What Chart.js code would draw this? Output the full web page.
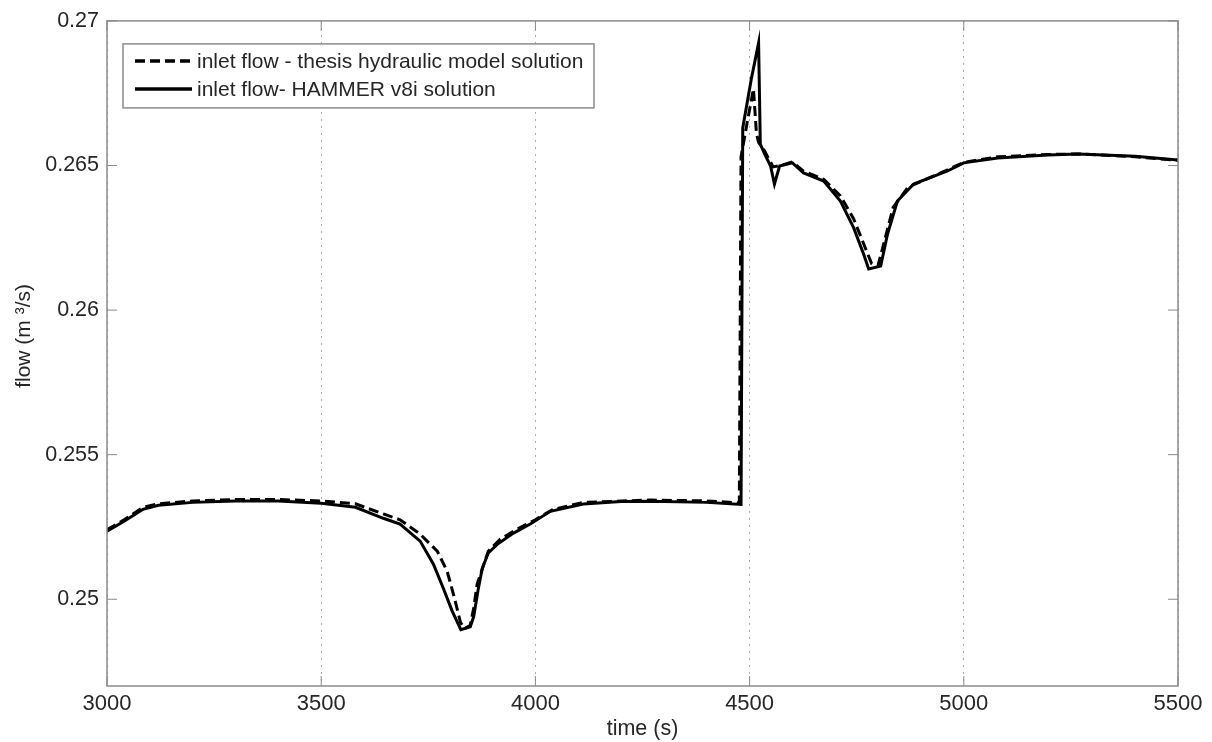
<!DOCTYPE html>
<html>
<head>
<meta charset="utf-8">
<script src="https://cdn.jsdelivr.net/npm/chart.js@4/dist/chart.umd.min.js"></script>
<style>
  html, body { margin: 0; padding: 0; background: #fff; }
  #wrap { width: 1212px; height: 742px; }
</style>
</head>
<body>
<div id="wrap"><canvas id="flowChart"></canvas></div>
<script>
// HAMMER v8i solution (solid)
var timeHammer = [3000, 3040, 3084, 3120, 3200, 3300, 3400, 3500, 3580, 3645, 3684, 3731, 3762, 3785, 3806, 3818, 3826, 3848, 3856, 3866, 3876, 3890, 3911, 3948, 3988, 4035, 4112, 4200, 4268, 4400, 4480, 4484, 4504, 4521, 4525, 4535, 4549, 4558, 4570, 4600, 4626, 4673, 4712, 4743, 4766, 4778, 4806, 4822, 4845, 4883, 4962, 5000, 5079, 5196, 5267, 5400, 5500];
var flowHammer = [0.25235, 0.2527, 0.25311, 0.25325, 0.25335, 0.2534, 0.2534, 0.25332, 0.25318, 0.2528, 0.2526, 0.25201, 0.25121, 0.25038, 0.24958, 0.2492, 0.24895, 0.24905, 0.2494, 0.2503, 0.25107, 0.2516, 0.2519, 0.25228, 0.2526, 0.25304, 0.25329, 0.25338, 0.25339, 0.25335, 0.25328, 0.2663, 0.26799, 0.26924, 0.26574, 0.2654, 0.26498, 0.26436, 0.26498, 0.26509, 0.26474, 0.26446, 0.26377, 0.26284, 0.26194, 0.26142, 0.26152, 0.26263, 0.26377, 0.26436, 0.26481, 0.26509, 0.26526, 0.26536, 0.2654, 0.26532, 0.26519];

// thesis hydraulic model solution (dashed)
var timeThesis = [3000, 3040, 3084, 3120, 3200, 3300, 3400, 3500, 3580, 3645, 3684, 3731, 3771, 3794, 3813, 3825, 3835, 3848, 3856, 3864, 3890, 3918, 3957, 4000, 4040, 4112, 4268, 4400, 4476, 4480, 4495, 4509, 4516, 4521, 4535, 4555, 4572, 4600, 4626, 4673, 4712, 4743, 4766, 4785, 4800, 4815, 4835, 4870, 4962, 5000, 5079, 5196, 5267, 5400, 5500];
var flowThesis = [0.2524, 0.25275, 0.25318, 0.2533, 0.2534, 0.25345, 0.25345, 0.2534, 0.2533, 0.25295, 0.25275, 0.25225, 0.25166, 0.25097, 0.24993, 0.2492, 0.24898, 0.2491, 0.2497, 0.25052, 0.25166, 0.25208, 0.25242, 0.25275, 0.2531, 0.25335, 0.25343, 0.2534, 0.25333, 0.2653, 0.26654, 0.26765, 0.2661, 0.2658, 0.2655, 0.26495, 0.265, 0.26512, 0.2648, 0.26452, 0.26395, 0.26315, 0.2623, 0.2616, 0.26155, 0.2624, 0.26355, 0.26425, 0.26485, 0.26511, 0.2653, 0.26538, 0.2654, 0.2653, 0.26518];

var xTicks = [3000, 3500, 4000, 4500, 5000, 5500];
var yTicks = [0.25, 0.255, 0.26, 0.265, 0.27];

function toPoints(xs, ys) {
    var pts = [];
    for (var i = 0; i < xs.length; i++) pts.push({x: xs[i], y: ys[i]});
    return pts;
}

var textColor = '#262626';
var axisColor = '#8a8a8a';
var fontFamily = '"Liberation Sans", Arial, Helvetica, sans-serif';

// box round the plot, inward ticks on all four sides, and the legend
var matlabFrame = {
    id: 'matlabFrame',
    afterDatasetsDraw: function(chart) {
        var ctx = chart.ctx;
        var a = chart.chartArea;
        var xs = chart.scales.x, ys = chart.scales.y;
        ctx.save();
        ctx.strokeStyle = axisColor;
        ctx.lineWidth = 1.5;
        ctx.strokeRect(a.left, a.top, a.right - a.left, a.bottom - a.top);
        ctx.lineWidth = 1;
        var tl = 10;
        xTicks.forEach(function(v) {
            var px = xs.getPixelForValue(v);
            ctx.beginPath();
            ctx.moveTo(px, a.bottom); ctx.lineTo(px, a.bottom - tl);
            ctx.moveTo(px, a.top); ctx.lineTo(px, a.top + tl);
            ctx.stroke();
        });
        yTicks.forEach(function(v) {
            var py = ys.getPixelForValue(v);
            ctx.beginPath();
            ctx.moveTo(a.left, py); ctx.lineTo(a.left + tl, py);
            ctx.moveTo(a.right, py); ctx.lineTo(a.right - tl, py);
            ctx.stroke();
        });

        // legend
        var lx = a.left + 16, ly = a.top + 23, lw = 471, lh = 64;
        ctx.fillStyle = '#fff';
        ctx.fillRect(lx, ly, lw, lh);
        ctx.strokeStyle = axisColor;
        ctx.lineWidth = 1.5;
        ctx.strokeRect(lx, ly, lw, lh);
        ctx.font = '21px ' + fontFamily;
        ctx.textBaseline = 'middle';
        chart.data.datasets.forEach(function(ds, i) {
            var rowY = ly + 17 + i * 28;
            ctx.strokeStyle = '#000';
            ctx.lineWidth = 3.5;
            ctx.setLineDash(ds.borderDash || []);
            ctx.beginPath();
            ctx.moveTo(lx + 12, rowY); ctx.lineTo(lx + 69, rowY);
            ctx.stroke();
            ctx.setLineDash([]);
            ctx.fillStyle = textColor;
            ctx.fillText(ds.label, lx + 74, rowY + 1);
        });
        ctx.restore();
    }
};

var ctx = document.getElementById('flowChart').getContext('2d');
var myChart = new Chart(ctx, {
    type: 'line',
    data: {
        datasets: [{
            label: 'inlet flow - thesis hydraulic model solution',
            data: toPoints(timeThesis, flowThesis),
            borderColor: '#000',
            borderWidth: 3,
            borderDash: [10, 5],
            pointRadius: 0,
            tension: 0,
            fill: false
        }, {
            label: 'inlet flow- HAMMER v8i solution',
            data: toPoints(timeHammer, flowHammer),
            borderColor: '#000',
            borderWidth: 3,
            pointRadius: 0,
            tension: 0,
            fill: false
        }]
    },
    options: {
        responsive: true,
        maintainAspectRatio: false,
        animation: false,
        layout: { padding: { left: 0, right: 34, top: 20, bottom: 0 } },
        plugins: {
            legend: { display: false },
            tooltip: { enabled: false }
        },
        scales: {
            x: {
                type: 'linear',
                min: 3000,
                max: 5500,
                afterBuildTicks: function(scale) {
                    scale.ticks = xTicks.map(function(v) { return {value: v}; });
                },
                afterFit: function(scale) { scale.height = 56; },
                ticks: {
                    color: textColor,
                    font: { family: fontFamily, size: 22 },
                    padding: 5,
                    maxRotation: 0,
                    callback: function(v) { return String(v); }
                },
                grid: { color: '#a8a8a8', lineWidth: 1, drawTicks: false },
                border: { display: false, dash: [2, 5] },
                title: {
                    display: true,
                    text: 'time (s)',
                    color: textColor,
                    font: { family: fontFamily, size: 21.5 },
                    padding: { top: 0, bottom: 0 }
                }
            },
            y: {
                min: 0.247,
                max: 0.27,
                afterBuildTicks: function(scale) {
                    scale.ticks = yTicks.map(function(v) { return {value: v}; });
                },
                afterFit: function(scale) { scale.width = 107; },
                ticks: {
                    color: textColor,
                    font: { family: fontFamily, size: 21.5 },
                    padding: 8,
                    callback: function(v) { return String(v); }
                },
                grid: { display: false, drawTicks: false },
                border: { display: false },
                title: {
                    display: true,
                    text: '      flow (m ³/s)',
                    color: textColor,
                    font: { family: fontFamily, size: 21 },
                    padding: { top: 12, bottom: 0 }
                }
            }
        }
    },
    plugins: [matlabFrame]
});
</script>
</body>
</html>
